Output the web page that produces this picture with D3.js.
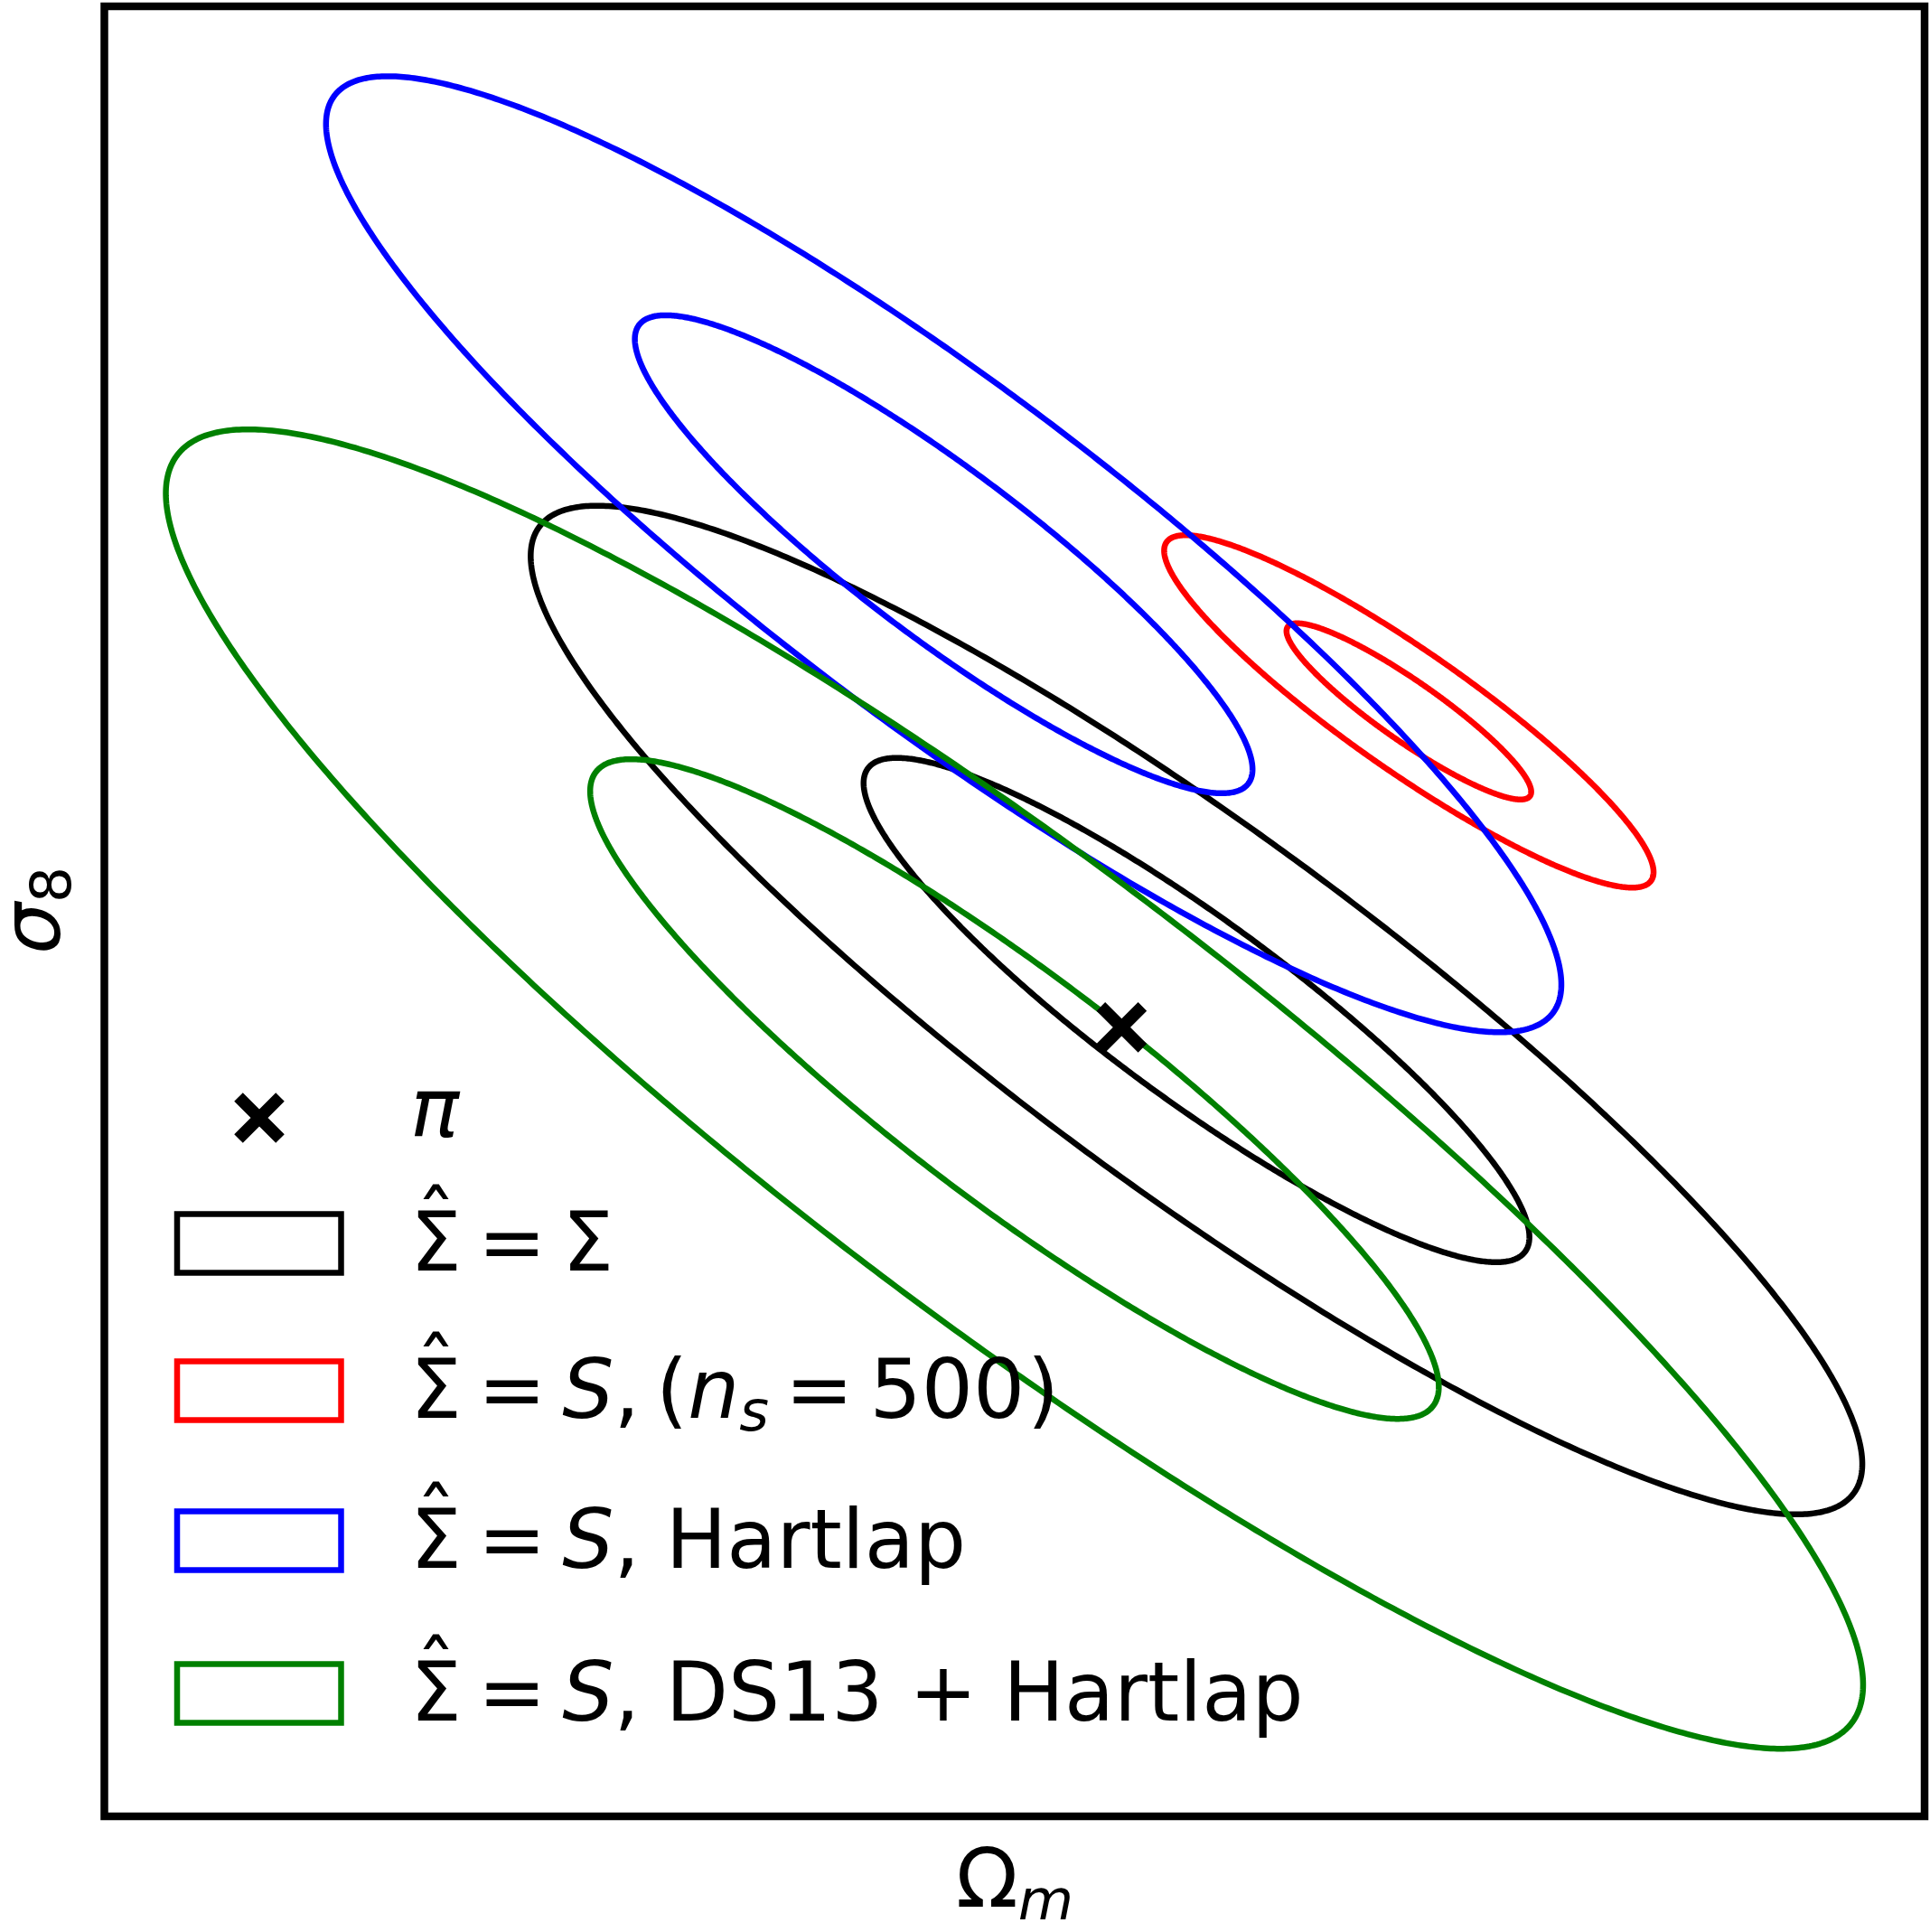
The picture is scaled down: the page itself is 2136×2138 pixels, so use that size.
<!DOCTYPE html>
<html>
<head>
<meta charset="utf-8">
<script src="https://cdn.jsdelivr.net/npm/d3@7"></script>
<style>
  html, body { margin: 0; padding: 0; background: #fff; }
  svg { display: block; }
  text { font-family: "DejaVu Sans", sans-serif; fill: #000; }
</style>
</head>
<body>
<script>
// Parameter plane (no tick labels are drawn, only the frame)
const omegaDomain  = [0.2497, 0.3397];
const sigma8Domain = [0.7041, 0.9241];

// Fiducial parameter point
const fiducial = [0.300, 0.800];

// Posterior contours: one Gaussian per covariance estimate
const seriesNames = ["Σ̂ = Σ", "Σ̂ = S, (n_s = 500)", "Σ̂ = S, Hartlap", "Σ̂ = S, DS13 + Hartlap"];
const seriesColors = ["#000000", "#ff0000", "#0000ff", "#008000"];
const centerOmega  = [0.3037, 0.3142, 0.2912, 0.2947];
const centerSigma8 = [0.8021, 0.8384, 0.8575, 0.7925];
const sigmaOmega   = [0.01646, 0.00605, 0.01527, 0.02098];
const sigmaSigma8  = [0.03065, 0.01071, 0.02905, 0.04009];
const correlation  = [-0.900, -0.912, -0.900, -0.903];
const contourLevels = [1, 2];

// Legend label pieces (mathtext-like tokens)
const legendTokens = [
  [{t: "Σ", hat: true}, {t: "=", gap: 0.2}, {t: "Σ", gap: 0.2}],
  [{t: "Σ", hat: true}, {t: "=", gap: 0.2}, {t: "S", it: true, gap: 0.2}, {t: ","},
   {t: "(", gap: 0.2}, {t: "n", it: true}, {t: "s", it: true, sub: true},
   {t: "=", gap: 0.2}, {t: "500", gap: 0.2}, {t: ")", gap: 0.03}],
  [{t: "Σ", hat: true}, {t: "=", gap: 0.2}, {t: "S", it: true, gap: 0.2}, {t: ", Hartlap"}],
  [{t: "Σ", hat: true}, {t: "=", gap: 0.2}, {t: "S", it: true, gap: 0.2}, {t: ", DS13 + Hartlap"}]
];
const fiducialLabel = "π";
const xLabel = ["Ω", "m"];
const yLabel = ["σ", "8"];

const W = 2136, H = 2138;
const frame = {left: 115.5, top: 7, right: 2130, bottom: 2010};
const fontSize = 90;

const svg = d3.select("body").append("svg")
  .attr("width", W).attr("height", H)
  .attr("viewBox", `0 0 ${W} ${H}`);

const x = d3.scaleLinear().domain(omegaDomain).range([frame.left, frame.right]);
const y = d3.scaleLinear().domain(sigma8Domain).range([frame.bottom, frame.top]);

// Contour outline of a 2D Gaussian at k standard deviations
function contour(i, k) {
  const n = 720, pts = [];
  const s = Math.sqrt(1 - correlation[i] * correlation[i]);
  for (let j = 0; j < n; j++) {
    const t = 2 * Math.PI * j / n, c = Math.cos(t), sn = Math.sin(t);
    pts.push([
      centerOmega[i] + k * sigmaOmega[i] * c,
      centerSigma8[i] + k * sigmaSigma8[i] * (correlation[i] * c + s * sn)
    ]);
  }
  return pts;
}

const line = d3.line().x(d => x(d[0])).y(d => y(d[1])).curve(d3.curveLinearClosed);

const plotG = svg.append("g");
seriesNames.forEach((name, i) => {
  contourLevels.forEach(k => {
    plotG.append("path")
      .attr("d", line(contour(i, k)))
      .attr("fill", "none")
      .attr("stroke", seriesColors[i])
      .attr("stroke-width", 6.5);
  });
});

// Cross marker
function cross(g, cx, cy) {
  const L = 23;
  g.append("path")
    .attr("d", `M${cx - L},${cy - L}L${cx + L},${cy + L}M${cx - L},${cy + L}L${cx + L},${cy - L}`)
    .attr("stroke", "#000").attr("stroke-width", 13.5).attr("fill", "none");
}
cross(plotG, x(fiducial[0]), y(fiducial[1]));

// Axes frame
svg.append("rect")
  .attr("x", frame.left).attr("y", frame.top)
  .attr("width", frame.right - frame.left).attr("height", frame.bottom - frame.top)
  .attr("fill", "none").attr("stroke", "#000").attr("stroke-width", 8.5);

// Axis labels
const xl = svg.append("text").attr("x", 1058).attr("y", 2110).attr("font-size", fontSize);
xl.append("tspan").text(xLabel[0]);
xl.append("tspan").text(xLabel[1]).attr("font-style", "italic")
  .attr("font-size", fontSize * 0.7).attr("dy", 14);

const yl = svg.append("text").attr("transform", "translate(66,1056) rotate(-90)")
  .attr("font-size", fontSize);
yl.append("tspan").text(yLabel[0]).attr("font-style", "italic");
yl.append("tspan").text(yLabel[1]).attr("font-size", fontSize * 0.7).attr("dy", 12);

// Legend
const leg = svg.append("g");
const textX = 454;
cross(leg, 287, 1237);
leg.append("text").attr("x", textX).attr("y", 1258).attr("font-size", fontSize)
  .attr("font-style", "italic").text(fiducialLabel);

const boxCenters = [1376, 1539, 1705, 1874];
seriesNames.forEach((name, i) => {
  const cy = boxCenters[i];
  leg.append("rect")
    .attr("x", 196).attr("y", cy - 32.5).attr("width", 181.5).attr("height", 65)
    .attr("fill", "none").attr("stroke", seriesColors[i]).attr("stroke-width", 6.5);
  const base = cy + 30;
  const txt = leg.append("text").attr("x", textX).attr("y", base)
    .attr("font-size", fontSize).style("white-space", "pre");
  let shifted = 0;
  legendTokens[i].forEach(tok => {
    const ts = txt.append("tspan").text(tok.t);
    if (tok.gap) ts.attr("dx", tok.gap * fontSize);
    if (tok.it) ts.attr("font-style", "italic");
    if (tok.sub) { ts.attr("font-size", fontSize * 0.7).attr("dy", 14); shifted = 14; }
    else if (shifted) { ts.attr("dy", -shifted); shifted = 0; }
  });
  // hat accent over the leading Sigma
  leg.append("text").attr("x", textX + 0.316 * fontSize).attr("y", base - 23)
    .attr("font-size", fontSize).attr("text-anchor", "middle").text("ˆ");
});
</script>
</body>
</html>
